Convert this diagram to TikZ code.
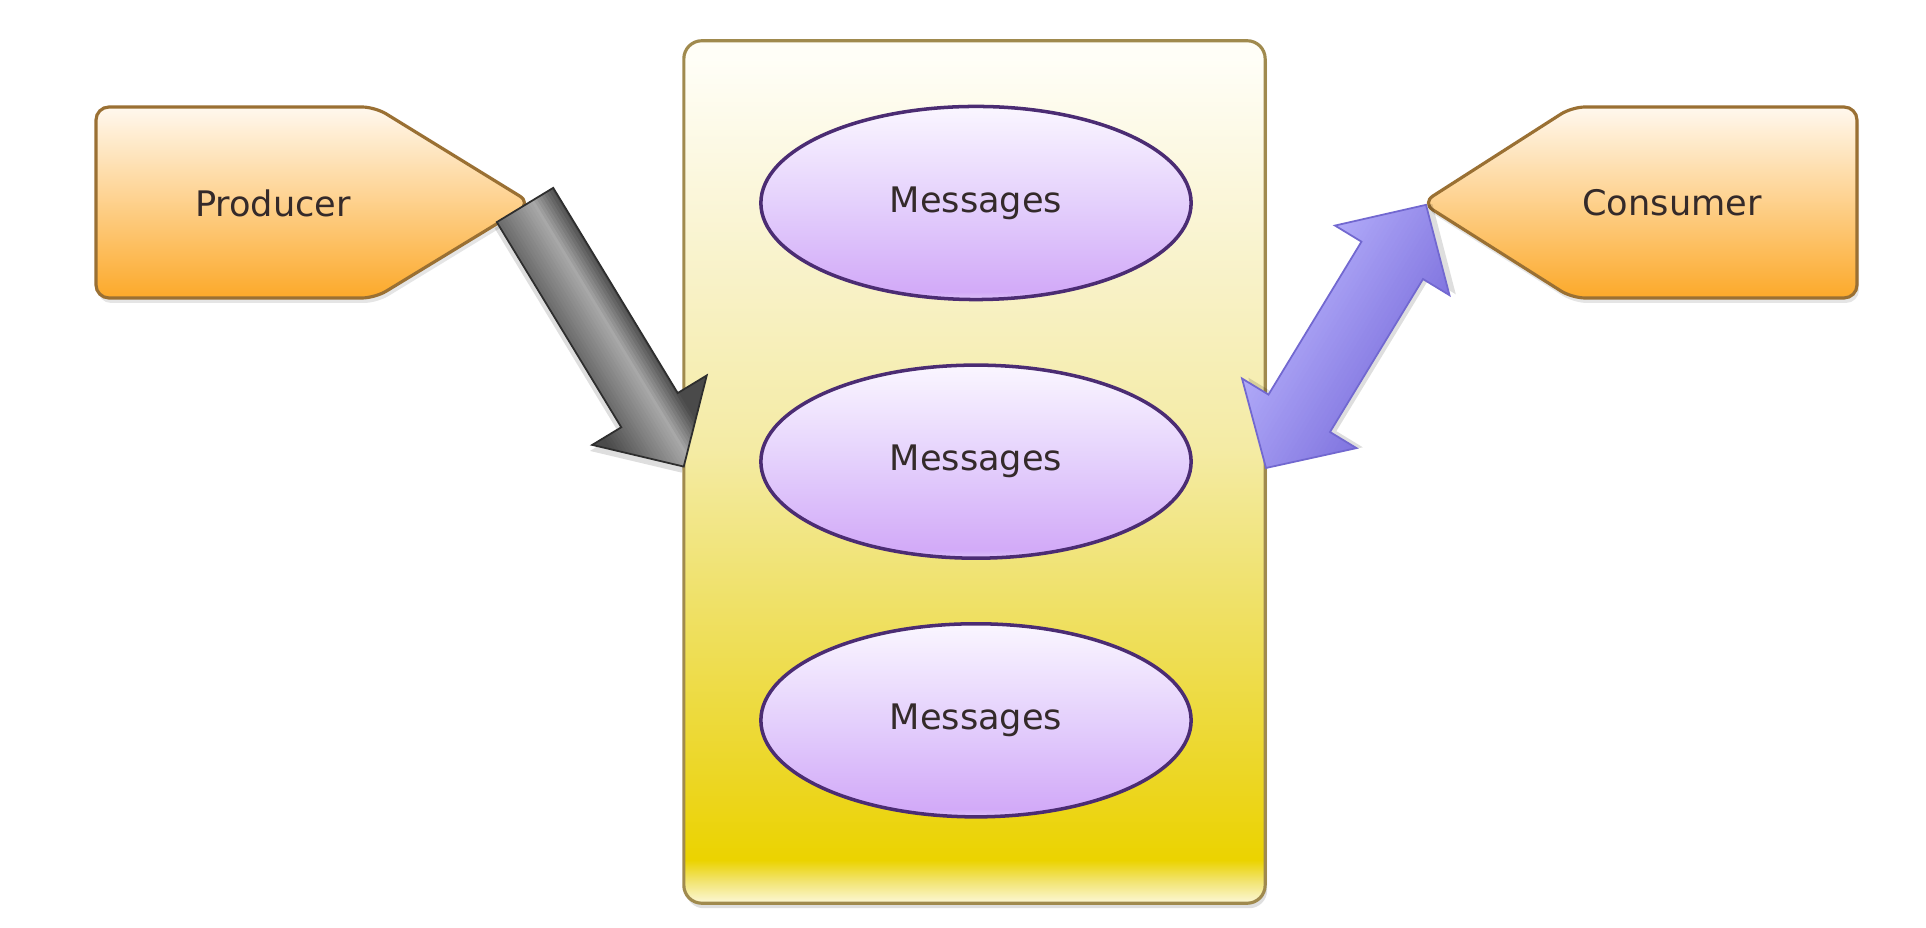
\documentclass[tikz,border=0pt]{standalone}
\usepackage{fontspec}
\setmainfont{DejaVu Sans}
\usetikzlibrary{shapes.geometric, shadows, positioning}

\definecolor{qborder}{HTML}{A08A4E}
\definecolor{pborder}{HTML}{9A7033}
\definecolor{ptop}{HTML}{FFF8EE}
\definecolor{pbottom}{HTML}{FCA92A}
\definecolor{mborder}{HTML}{4B2C73}
\definecolor{txt}{HTML}{342A2A}
\definecolor{gdark}{HTML}{4A4A4A}
\definecolor{glight}{HTML}{A8A8A8}
\definecolor{gedge}{HTML}{2E2E2E}
\definecolor{bdark}{HTML}{8074DF}
\definecolor{blight}{HTML}{B0A9F8}
\definecolor{bborder}{HTML}{7268D0}
\definecolor{yA}{HTML}{FCF8D8}
\definecolor{yB}{HTML}{F2E470}
\definecolor{yC}{HTML}{EBD300}
\definecolor{yD}{HTML}{ECD622}
\definecolor{yE}{HTML}{EFE169}
\definecolor{yF}{HTML}{F4EBA4}
\definecolor{yG}{HTML}{F9F3CE}
\definecolor{yH}{HTML}{FFFEF7}
\definecolor{mA}{HTML}{DCC2F8}
\definecolor{mB}{HTML}{D2AAF8}
\definecolor{mC}{HTML}{E4D0FC}
\definecolor{mD}{HTML}{FAF6FF}

\pgfdeclareverticalshading{queueshade}{100bp}{color(0bp)=(yA); color(25bp)=(yA);
  color(26.3bp)=(yB); color(27.5bp)=(yC); color(32bp)=(yD); color(42.6bp)=(yE);
  color(51.3bp)=(yF); color(63bp)=(yG); color(74bp)=(yH); color(100bp)=(yH)}
\pgfdeclareverticalshading{msgshade}{100bp}{color(0bp)=(mA); color(25bp)=(mA);
  color(27bp)=(mB); color(50bp)=(mC); color(75bp)=(mD); color(100bp)=(mD)}

% arrow outlines, in the arrow's own frame
\def\putpath{(0,-33) -- (240,-33) -- (240,-67) -- (306,0) -- (240,67) -- (240,33) -- (0,33) -- cycle}
\def\getpath{(0,0) -- (64,67) -- (64,36) -- (243,36) -- (243,67) -- (308,0) -- (243,-67)
  -- (243,-36) -- (64,-36) -- (64,-67) -- cycle}

\tikzset{
  lbl/.style = {font=\fontsize{10}{12}\selectfont, text=txt},
  queue/.style = {draw=qborder, line width=0.9pt, shading=queueshade,
    rounded corners=0.18cm, minimum width=5.81cm, minimum height=8.62cm,
    drop shadow={opacity=0.25, shadow xshift=0.02cm, shadow yshift=-0.05cm}},
  msg/.style = {ellipse, draw=mborder, line width=1pt, shading=msgshade,
    minimum width=4.3cm, minimum height=1.93cm, inner sep=0pt, lbl},
  endpoint/.style = {draw=pborder, line width=0.9pt, top color=ptop, bottom color=pbottom,
    rounded corners=0.13cm,
    drop shadow={opacity=0.2, shadow xshift=0.02cm, shadow yshift=-0.05cm}},
  arrowshadow/.style = {fill=black, opacity=0.13, shift={(4,5)}}
}

\begin{document}
\begin{tikzpicture}[x=0.01cm, y=-0.01cm]
  \useasboundingbox (0,0) rectangle (1926,928);
  \fill[white] (0,0) rectangle (1926,928);

  % the queue
  \node[queue] (queue) at (974.5,472) {};
  \node[msg] (m1) at (976,203) {Messages};
  \node[msg] (m2) [below=0.62cm of m1] {Messages};
  \node[msg] (m3) [below=0.62cm of m2] {Messages};

  % producer and consumer
  \draw[endpoint] (96,107) -- (375,107) -- (531,203) -- (375,298) -- (96,298) -- cycle;
  \node[lbl] (producer) at (273,203) {Producer};
  \draw[endpoint] (1857,107) -- (1572,107) -- (1422,203) -- (1572,298) -- (1857,298) -- cycle;
  \node[lbl] (consumer) at (1672,203) {Consumer};

  \coordinate (ptip) at (525,205);
  \coordinate (qright) at (1266,468);

  % producer -> queue
  \begin{scope}[shift={(ptip)}, rotate=-58.75]
    \fill[arrowshadow] \putpath;
    \foreach \t [evaluate=\t as \p using {ifthenelse(\t<=-10, max(0,100-(-10-\t)*3.9), max(0,100-(\t+10)*1.6))}] in {-67,-64,...,68} {
      \begin{scope}
        \clip (-5,\t) rectangle (320,72);
        \fill[glight!\p!gdark] \putpath;
      \end{scope}
    }
    \draw[gedge, line width=0.5pt] \putpath;
  \end{scope}

  % queue <-> consumer
  \begin{scope}[shift={(qright)}, rotate=58.7]
    \fill[arrowshadow] \getpath;
    \foreach \t [evaluate=\t as \p using {(\t+67)/1.34}] in {-67,-63,...,67} {
      \begin{scope}
        \clip (-5,\t) rectangle (320,72);
        \fill[bdark!\p!blight] \getpath;
      \end{scope}
    }
    \draw[bborder, line width=0.5pt] \getpath;
  \end{scope}
\end{tikzpicture}
\end{document}
